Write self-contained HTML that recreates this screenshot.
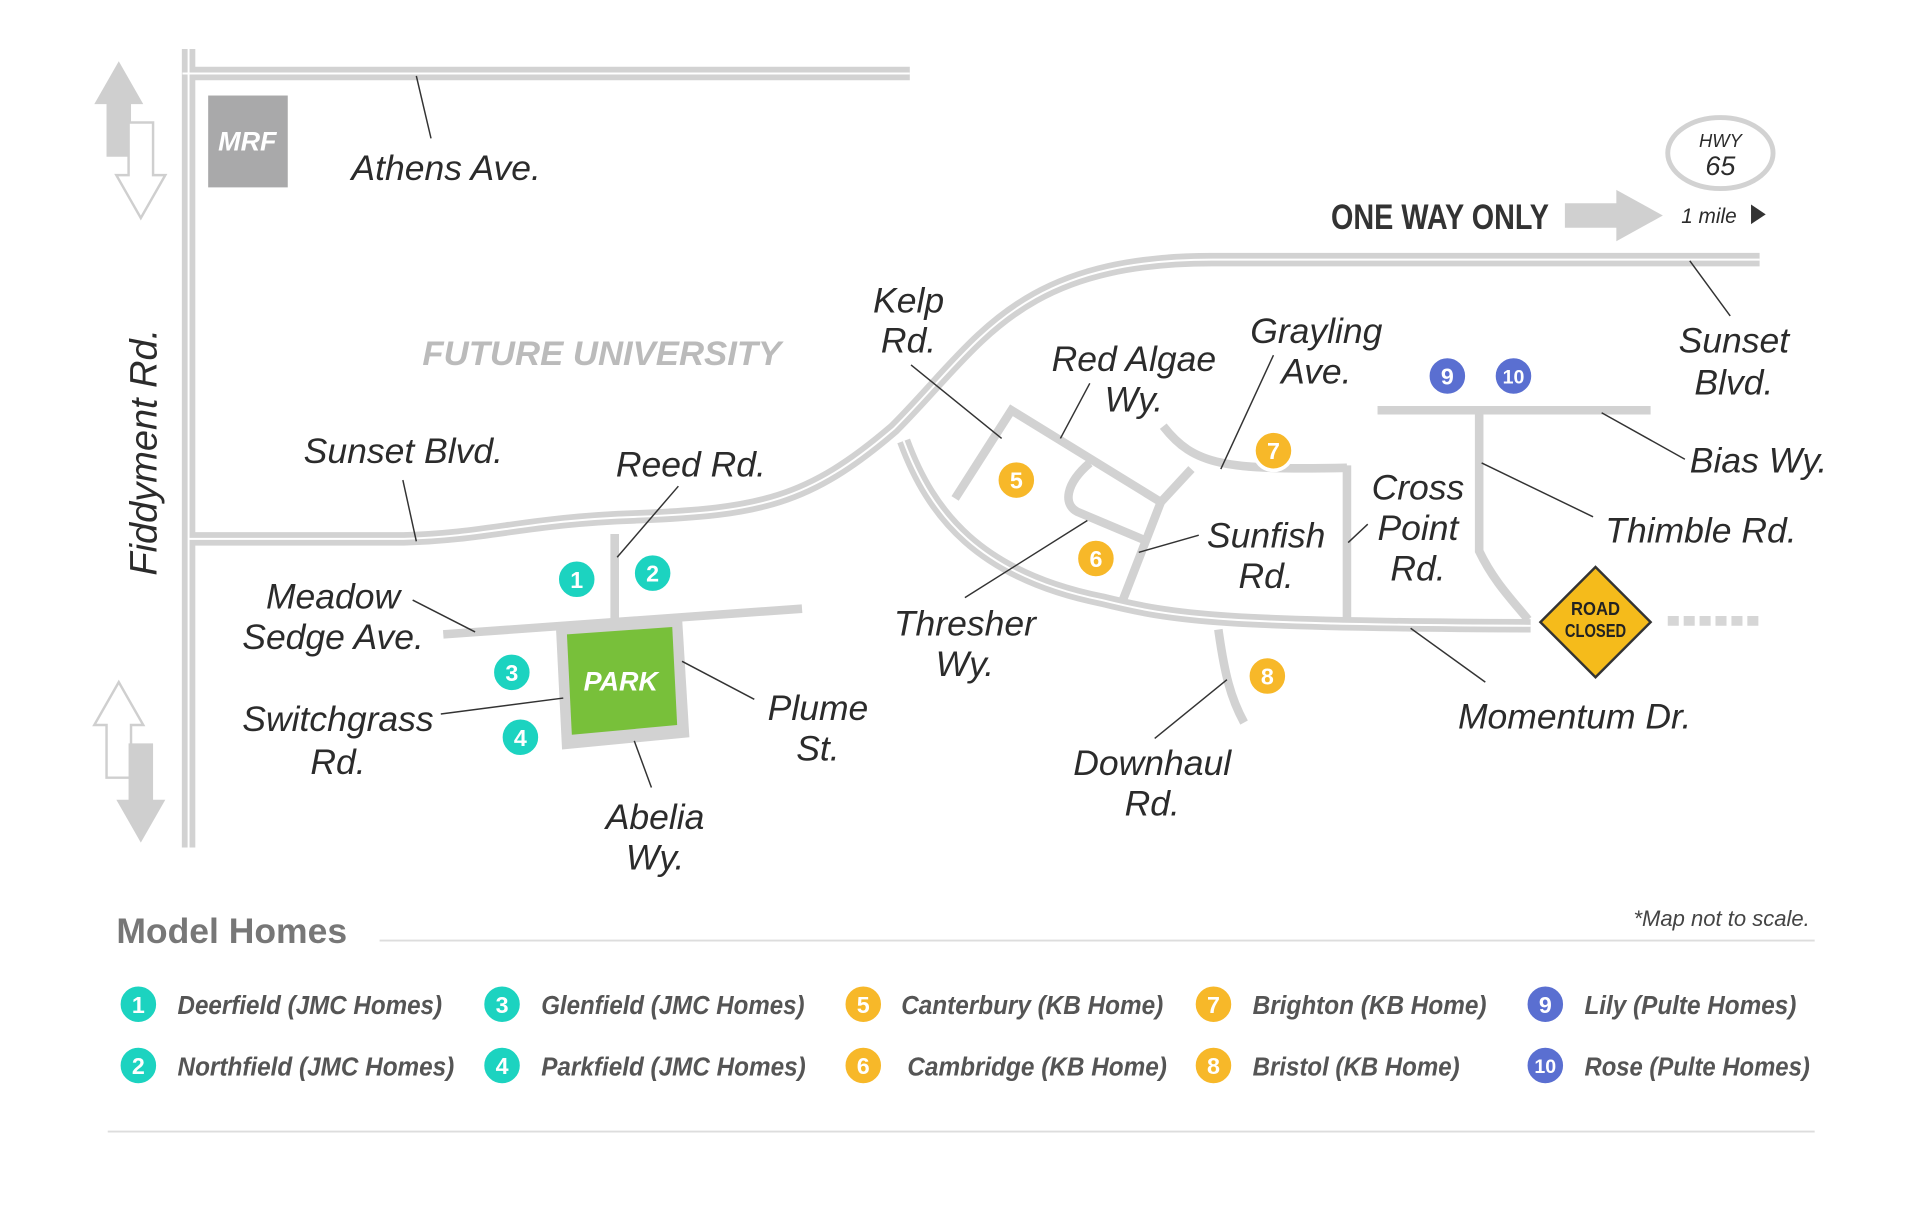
<!DOCTYPE html>
<html><head><meta charset="utf-8"><style>
html,body{margin:0;padding:0;background:#fff;}
svg{display:block;}
text{font-family:"Liberation Sans",sans-serif;}
.l{font-style:italic;font-size:29px;fill:#2b2b2b;}
.ld{stroke:#333;stroke-width:1.2;fill:none;}
.r{stroke:#d2d2d2;fill:none;stroke-linecap:butt;}
.lg{font-style:italic;font-weight:bold;font-size:21px;fill:#555;}
.n{font-weight:bold;font-size:19px;fill:#fff;text-anchor:middle;}
</style></head><body>
<svg width="1920" height="1221" viewBox="0 0 1568 997" preserveAspectRatio="none" xmlns="http://www.w3.org/2000/svg">
<rect width="1568" height="997" fill="#fff"/>
<!-- double roads -->
<g class="r" stroke-width="11">
<path d="M154,40 L154,692"/>
<path d="M149,60 L743,60"/>
<path d="M154,440 L330,440 C400,438 430,425 520,422 C620,418 660,410 730,350 C800,280 830,212 990,212 L1437,212"/>
<path d="M738,360 C760,420 800,470 900,490 C960,505 1000,510 1250,511"/>
</g>
<g stroke="#fff" stroke-width="1.6" fill="none">
<path d="M154,40 L154,692"/>
<path d="M149,60 L743,60"/>
<path d="M154,440 L330,440 C400,438 430,425 520,422 C620,418 660,410 730,350 C800,280 830,212 990,212 L1437,212"/>
<path d="M738,360 C760,420 800,470 900,490 C960,505 1000,510 1250,511"/>
</g>
<!-- single roads -->
<g class="r" stroke-width="7">
<path d="M502,436 L502,505"/>
<path d="M362,518 L655,497"/>
<path d="M780,407 L826,335 L948,410"/>
<path d="M948,410 L917,490"/>
<path d="M890,378 C870,395 868,412 880,418 L937,442"/>
<path d="M950,348 C975,380 1000,384 1100,382"/>
<path d="M1100,380 L1100,506"/>
<path d="M1125,335 L1348,335"/>
<path d="M1208,335 L1208,450 C1220,475 1235,490 1248,506"/>
<path d="M995,514 C1000,550 1005,570 1016,590"/>
<path d="M973,383 L948,410"/>
</g>
<line x1="1362" y1="507" x2="1437" y2="507" stroke="#d6d6d6" stroke-width="8" stroke-dasharray="9,4"/>
<!-- park -->
<polygon points="454,512 557,504 563,602 459,612" fill="#d2d2d2"/>
<polygon points="463,518 549,512 553,592 467,600" fill="#78c03a"/>
<text x="507" y="564" class="l" style="font-size:22px;font-weight:bold;fill:#fff" text-anchor="middle">PARK</text>
<!-- MRF -->
<rect x="170" y="78" width="65" height="75" fill="#a9a9aa"/>
<text x="202" y="123" class="l" style="font-size:22px;font-weight:bold;fill:#fff" text-anchor="middle">MRF</text>
<!-- arrows -->
<polygon points="97,50 117,85 107,85 107,128 87,128 87,85 77,85" fill="#cfcfcf"/>
<polygon points="115,178 135,143 125,143 125,100 105,100 105,143 95,143" fill="#fff" stroke="#cfcfcf" stroke-width="2"/>
<polygon points="97,557 117,592 107,592 107,635 87,635 87,592 77,592" fill="#fff" stroke="#cfcfcf" stroke-width="2"/>
<polygon points="115,688 135,653 125,653 125,607 105,607 105,653 95,653" fill="#cfcfcf"/>
<polygon points="1278,166 1320,166 1320,155 1358,176 1320,197 1320,186 1278,186" fill="#d0d0d0"/>
<text x="1087" y="187" style="font-weight:bold;font-size:29px;fill:#333;" textLength="178" lengthAdjust="spacingAndGlyphs">ONE WAY ONLY</text>
<text x="1373" y="182" class="l" style="font-size:17px">1 mile</text>
<polygon points="1430,167 1442,175 1430,183" fill="#333"/>
<ellipse cx="1405" cy="125" rx="43" ry="29" fill="#fff" stroke="#d2d2d2" stroke-width="4"/>
<text x="1405" y="120" class="l" style="font-size:15px" text-anchor="middle">HWY</text>
<text x="1405" y="143" class="l" style="font-size:22px" text-anchor="middle">65</text>
<!-- road closed -->
<polygon points="1303,463 1348,508 1303,553 1258,508" fill="#f5bb1b" stroke="#333" stroke-width="2"/>
<text x="1303" y="502" text-anchor="middle" style="font-weight:bold;font-size:15px;fill:#222" textLength="40" lengthAdjust="spacingAndGlyphs">ROAD</text>
<text x="1303" y="520" text-anchor="middle" style="font-weight:bold;font-size:15px;fill:#222" textLength="50" lengthAdjust="spacingAndGlyphs">CLOSED</text>
<!-- labels -->
<text x="287" y="147" class="l">Athens Ave.</text>
<text x="0" y="0" class="l" transform="translate(128,470) rotate(-90)" style="font-size:31px">Fiddyment Rd.</text>
<text x="345" y="298" class="l" style="fill:#bbb;font-weight:bold;font-size:28px" textLength="293" lengthAdjust="spacingAndGlyphs">FUTURE UNIVERSITY</text>
<text x="248" y="378" class="l">Sunset Blvd.</text>
<text x="503" y="389" class="l">Reed Rd.</text>
<text x="272" y="497" class="l" text-anchor="middle">Meadow</text>
<text x="272" y="530" class="l" text-anchor="middle">Sedge Ave.</text>
<text x="276" y="597" class="l" text-anchor="middle">Switchgrass</text>
<text x="276" y="632" class="l" text-anchor="middle">Rd.</text>
<text x="668" y="588" class="l" text-anchor="middle">Plume</text>
<text x="668" y="621" class="l" text-anchor="middle">St.</text>
<text x="535" y="677" class="l" text-anchor="middle">Abelia</text>
<text x="535" y="710" class="l" text-anchor="middle">Wy.</text>
<text x="742" y="255" class="l" text-anchor="middle">Kelp</text>
<text x="742" y="288" class="l" text-anchor="middle">Rd.</text>
<text x="926" y="303" class="l" text-anchor="middle">Red Algae</text>
<text x="926" y="336" class="l" text-anchor="middle">Wy.</text>
<text x="1075" y="280" class="l" text-anchor="middle">Grayling</text>
<text x="1075" y="313" class="l" text-anchor="middle">Ave.</text>
<text x="1158" y="408" class="l" text-anchor="middle">Cross</text>
<text x="1158" y="441" class="l" text-anchor="middle">Point</text>
<text x="1158" y="474" class="l" text-anchor="middle">Rd.</text>
<text x="1034" y="447" class="l" text-anchor="middle">Sunfish</text>
<text x="1034" y="480" class="l" text-anchor="middle">Rd.</text>
<text x="788" y="519" class="l" text-anchor="middle">Thresher</text>
<text x="788" y="552" class="l" text-anchor="middle">Wy.</text>
<text x="941" y="633" class="l" text-anchor="middle">Downhaul</text>
<text x="941" y="666" class="l" text-anchor="middle">Rd.</text>
<text x="1286" y="595" class="l" text-anchor="middle">Momentum Dr.</text>
<text x="1416" y="288" class="l" text-anchor="middle">Sunset</text>
<text x="1416" y="322" class="l" text-anchor="middle">Blvd.</text>
<text x="1380" y="386" class="l">Bias Wy.</text>
<text x="1311" y="443" class="l">Thimble Rd.</text>
<!-- leaders -->
<g class="ld">
<line x1="340" y1="62" x2="352" y2="113"/>
<line x1="329" y1="392" x2="340" y2="442"/>
<line x1="554" y1="397" x2="504" y2="455"/>
<line x1="337" y1="490" x2="388" y2="516"/>
<line x1="360" y1="583" x2="460" y2="570"/>
<line x1="557" y1="540" x2="616" y2="571"/>
<line x1="518" y1="605" x2="532" y2="643"/>
<line x1="744" y1="298" x2="818" y2="358"/>
<line x1="890" y1="313" x2="866" y2="358"/>
<line x1="1040" y1="290" x2="997" y2="383"/>
<line x1="1117" y1="428" x2="1101" y2="443"/>
<line x1="979" y1="437" x2="930" y2="451"/>
<line x1="888" y1="425" x2="788" y2="488"/>
<line x1="1002" y1="555" x2="943" y2="603"/>
<line x1="1152" y1="513" x2="1213" y2="557"/>
<line x1="1380" y1="213" x2="1413" y2="258"/>
<line x1="1308" y1="337" x2="1376" y2="375"/>
<line x1="1210" y1="378" x2="1301" y2="422"/>
</g>
<!-- map markers -->
<g stroke="#fff" stroke-width="3">
<circle cx="471" cy="473" r="16" fill="#1cd3c0"/>
<circle cx="533" cy="468" r="16" fill="#1cd3c0"/>
<circle cx="418" cy="549" r="16" fill="#1cd3c0"/>
<circle cx="425" cy="602" r="16" fill="#1cd3c0"/>
<circle cx="830" cy="392" r="16" fill="#f7b829"/>
<circle cx="895" cy="456" r="16" fill="#f7b829"/>
<circle cx="1040" cy="368" r="16" fill="#f7b829"/>
<circle cx="1035" cy="552" r="16" fill="#f7b829"/>
<circle cx="1182" cy="307" r="16" fill="#5a6fd1"/>
<circle cx="1236" cy="307" r="16" fill="#5a6fd1"/>
</g>
<g class="n">
<text x="471" y="480">1</text><text x="533" y="475">2</text><text x="418" y="556">3</text><text x="425" y="609">4</text>
<text x="830" y="399">5</text><text x="895" y="463">6</text><text x="1040" y="375">7</text><text x="1035" y="559">8</text>
<text x="1182" y="314">9</text><text x="1236" y="313" style="font-size:16px">10</text>
</g>
<!-- legend -->
<text x="95" y="770" style="font-weight:bold;font-size:29px;fill:#777">Model Homes</text>
<line x1="310" y1="768" x2="1482" y2="768" stroke="#ddd" stroke-width="1.5"/>
<text x="1478" y="756" class="l" style="font-size:18px;fill:#444" text-anchor="end">*Map not to scale.</text>
<line x1="88" y1="924" x2="1482" y2="924" stroke="#ddd" stroke-width="1.5"/>
<g stroke="#fff" stroke-width="3">
<circle cx="113" cy="820" r="16" fill="#1cd3c0"/><circle cx="113" cy="870" r="16" fill="#1cd3c0"/>
<circle cx="410" cy="820" r="16" fill="#1cd3c0"/><circle cx="410" cy="870" r="16" fill="#1cd3c0"/>
<circle cx="705" cy="820" r="16" fill="#f7b829"/><circle cx="705" cy="870" r="16" fill="#f7b829"/>
<circle cx="991" cy="820" r="16" fill="#f7b829"/><circle cx="991" cy="870" r="16" fill="#f7b829"/>
<circle cx="1262" cy="820" r="16" fill="#5a6fd1"/><circle cx="1262" cy="870" r="16" fill="#5a6fd1"/>
</g>
<g class="n">
<text x="113" y="827">1</text><text x="113" y="877">2</text>
<text x="410" y="827">3</text><text x="410" y="877">4</text>
<text x="705" y="827">5</text><text x="705" y="877">6</text>
<text x="991" y="827">7</text><text x="991" y="877">8</text>
<text x="1262" y="827">9</text><text x="1262" y="876" style="font-size:16px">10</text>
</g>
<text x="145" y="828" class="lg" textLength="216" lengthAdjust="spacingAndGlyphs">Deerfield (JMC Homes)</text>
<text x="145" y="878" class="lg" textLength="226" lengthAdjust="spacingAndGlyphs">Northfield (JMC Homes)</text>
<text x="442" y="828" class="lg" textLength="215" lengthAdjust="spacingAndGlyphs">Glenfield (JMC Homes)</text>
<text x="442" y="878" class="lg" textLength="216" lengthAdjust="spacingAndGlyphs">Parkfield (JMC Homes)</text>
<text x="736" y="828" class="lg" textLength="214" lengthAdjust="spacingAndGlyphs">Canterbury (KB Home)</text>
<text x="741" y="878" class="lg" textLength="212" lengthAdjust="spacingAndGlyphs">Cambridge (KB Home)</text>
<text x="1023" y="828" class="lg" textLength="191" lengthAdjust="spacingAndGlyphs">Brighton (KB Home)</text>
<text x="1023" y="878" class="lg" textLength="169" lengthAdjust="spacingAndGlyphs">Bristol (KB Home)</text>
<text x="1294" y="828" class="lg" textLength="173" lengthAdjust="spacingAndGlyphs">Lily (Pulte Homes)</text>
<text x="1294" y="878" class="lg" textLength="184" lengthAdjust="spacingAndGlyphs">Rose (Pulte Homes)</text>
</svg>
</body></html>
